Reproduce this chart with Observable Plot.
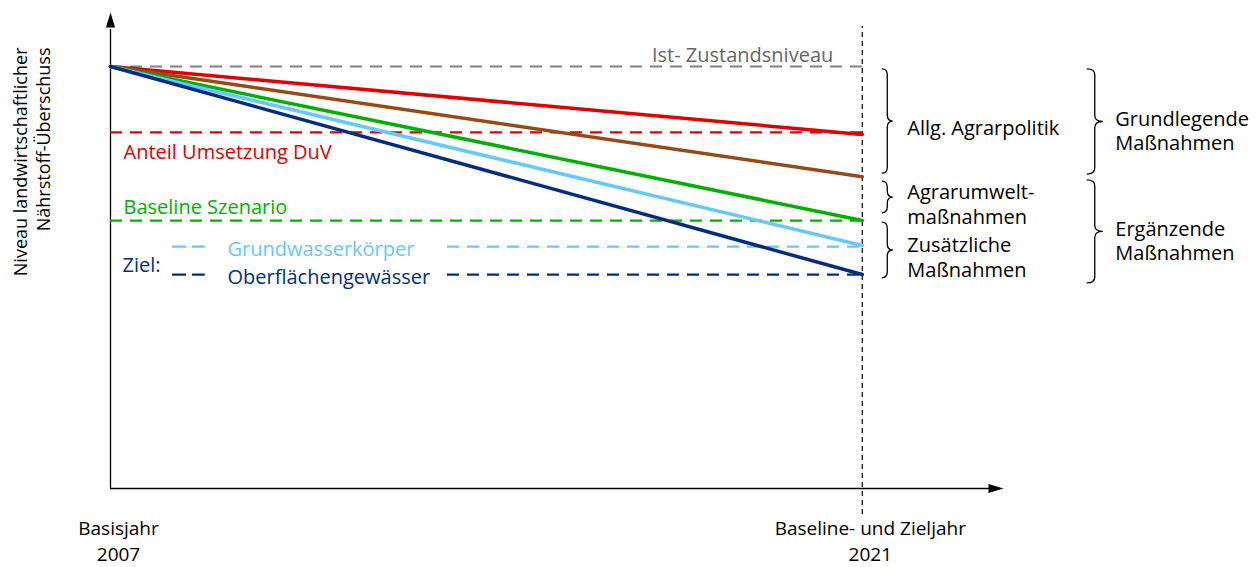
<!DOCTYPE html>
<html><head><meta charset="utf-8">
<script src="https://cdn.jsdelivr.net/npm/d3@7"></script>
<script src="https://cdn.jsdelivr.net/npm/@observablehq/plot@0.6"></script>
<style>body{margin:0;background:#fff} svg{display:block}</style>
</head><body><div id="chart"></div>
<script>
// ---- data ----
const baseYear = 2007;
const targetYear = 2021;
const axisEndYear = 2023.63;
const axisTop = 112.8;
const startLevel = 100;

const pathwayNames = ["Umsetzung DuV", "Allg. Agrarpolitik", "Agrarumweltmaßnahmen", "Grundwasserkörper", "Oberflächengewässer"];
const pathwayEnd = [83.9, 73.9, 63.5, 57.6, 50.7];
const pathwayColors = ["#e00000", "#974b14", "#00b000", "#66c8ff", "#002d84"];

const refNames = ["Ist- Zustandsniveau", "Anteil Umsetzung DuV", "Baseline Szenario", "Grundwasserkörper", "Oberflächengewässer"];
const refLevels = [100, 84.4, 63.5, 57.3, 50.7];
const refColors = ["#808080", "#e00000", "#00b000", "#66c8ff", "#002d84"];

const braceLabels = ["Allg. Agrarpolitik", "Agrarumwelt-\nmaßnahmen", "Zusätzliche\nMaßnahmen", "Grundlegende\nMaßnahmen", "Ergänzende\nMaßnahmen"];
const braceTop = [99.3, 72.7, 63.0, 99.3, 73.0];
const braceBottom = [74.6, 65.2, 49.8, 74.4, 48.6];
const braceColumn = [0, 0, 0, 1, 1];

const xTicks = [2007, 2021];
const xTickTitles = ["Basisjahr", "Baseline- und Zieljahr"];
const xTickYears = ["2007", "2021"];
const yLabel = "Niveau landwirtschaftlicher\nNährstoff-Überschuss";
const zielLabel = "Ziel:";

// ---- derived tables ----
const lineData = pathwayNames.flatMap((name, i) => [
  {name, year: baseYear, value: startLevel},
  {name, year: targetYear, value: pathwayEnd[i]}
]);
const refs = refNames.map((name, i) => ({name, level: refLevels[i], color: refColors[i]}));
const braces = braceLabels.map((label, i) => ({label, top: braceTop[i], bottom: braceBottom[i], col: braceColumn[i], mid: (braceTop[i] + braceBottom[i]) / 2}));
const ticks = xTicks.map((year, i) => ({year, title: xTickTitles[i], yearLabel: xTickYears[i]}));

// ---- style ----
const FONT = "'Open Sans', sans-serif";
const FS = 20;
const braceOffset = [20, 225];
const braceWidth = [11, 16];
const braceTextDx = [45, 253];
const dash = "12,8";

const arrowHead = {
  draw(ctx) { ctx.moveTo(0, 0); ctx.lineTo(4.6, 15); ctx.lineTo(-4.6, 15); ctx.closePath(); }
};

function braceMark(index, scales) {
  const g = d3.create("svg:g").attr("fill", "none").attr("stroke", "#000").attr("stroke-width", 1.3);
  for (const b of braces) {
    const x0 = scales.x(targetYear) + braceOffset[b.col];
    const w = braceWidth[b.col];
    const y0 = scales.y(b.top), y1 = scales.y(b.bottom), ym = (y0 + y1) / 2;
    const xm = x0 + w / 2, r = Math.min(6, (y1 - y0) / 4);
    g.append("path").attr("d",
      `M${x0},${y0} Q${xm},${y0} ${xm},${y0 + r} L${xm},${ym - r} Q${xm},${ym} ${x0 + w},${ym} ` +
      `Q${xm},${ym} ${xm},${ym + r} L${xm},${y1 - r} Q${xm},${y1} ${x0},${y1}`);
  }
  return g.node();
}

const marks = [];
// axes
marks.push(Plot.ruleX([baseYear], {y1: 0, y2: axisTop, insetBottom: -17, stroke: "#000", strokeWidth: 1.3}));
marks.push(Plot.ruleY([0], {x1: baseYear, x2: axisEndYear, insetRight: 6, stroke: "#000", strokeWidth: 1.3}));
marks.push(Plot.dot([{x: baseYear, y: axisTop}], {x: "x", y: "y", symbol: arrowHead, fill: "#000", stroke: null, r: 5}));
marks.push(Plot.dot([{x: axisEndYear, y: 0}], {x: "x", y: "y", symbol: arrowHead, rotate: 90, fill: "#000", stroke: null, r: 5}));
marks.push(Plot.ruleX([targetYear], {y1: 0, y2: axisTop, insetTop: 26, insetBottom: -14, stroke: "#000", strokeWidth: 1.2, strokeDasharray: "5,4"}));

// reference dashed lines
refs.slice(0, 3).forEach(r => marks.push(Plot.ruleY([r], {y: "level", x1: baseYear, x2: targetYear, stroke: r.color, strokeWidth: 2.2, strokeDasharray: dash})));
refs.slice(3).forEach(r => {
  marks.push(Plot.ruleY([r], {y: "level", x1: baseYear, x2: targetYear, insetLeft: 337, stroke: r.color, strokeWidth: 2.2, strokeDasharray: dash}));
  marks.push(Plot.ruleY([r], {y: "level", x1: baseYear, x2: targetYear, insetLeft: 62, insetRight: 657, stroke: r.color, strokeWidth: 2.2, strokeDasharray: "14,6"}));
});

// pathway lines
pathwayNames.forEach((name, i) => marks.push(Plot.line(lineData.filter(d => d.name === name), {x: "year", y: "value", stroke: pathwayColors[i], strokeWidth: 3.5})));

// labels
const t = (o) => Object.assign({fontSize: FS, fontFamily: FONT, lineAnchor: "middle"}, o);
marks.push(Plot.text([refs[0]], t({x: () => targetYear, y: "level", text: "name", textAnchor: "end", dx: -29, dy: -11, fill: "#666666"})));
marks.push(Plot.text([refs[1]], t({x: () => baseYear, y: "level", text: "name", textAnchor: "start", dx: 13, dy: 20, fill: refs[1].color})));
marks.push(Plot.text([refs[2]], t({x: () => baseYear, y: "level", text: "name", textAnchor: "start", dx: 13, dy: -13, fill: refs[2].color})));
marks.push(Plot.text([refs[3]], t({x: () => baseYear, y: "level", text: "name", textAnchor: "start", dx: 117, dy: 3, fill: refs[3].color})));
marks.push(Plot.text([refs[4]], t({x: () => baseYear, y: "level", text: "name", textAnchor: "start", dx: 117, dy: 3, fill: refs[4].color})));
marks.push(Plot.text([refs[4]], t({x: () => baseYear, y: "level", text: () => zielLabel, textAnchor: "start", dx: 12, dy: -9, fill: refs[4].color})));

// braces + labels
marks.push(braceMark);
marks.push(Plot.text(braces.filter(b => b.col === 0), t({x: () => targetYear, y: "mid", text: "label", textAnchor: "start", dx: braceTextDx[0], dy: 6, lineHeight: 1.22, fill: "#000"})));
marks.push(Plot.text(braces.filter(b => b.col === 1), t({x: () => targetYear, y: "mid", text: "label", textAnchor: "start", dx: braceTextDx[1], dy: 8, lineHeight: 1.22, fill: "#000"})));

// x tick labels
marks.push(Plot.text(ticks, t({x: "year", y: () => 0, text: "title", fontSize: 19, textAnchor: "middle", dx: 8, dy: 40, fill: "#000"})));
marks.push(Plot.text(ticks, t({x: "year", y: () => 0, text: "yearLabel", fontSize: 19, textAnchor: "middle", dx: 8, dy: 66, fill: "#000"})));

// y label
marks.push(Plot.text([yLabel], t({frameAnchor: "top-left", text: d => d, fontSize: 18, rotate: -90, textAnchor: "end", dx: -79, dy: 35, lineHeight: 1.28, fill: "#000"})));

const chart = Plot.plot({
  width: 1258, height: 567,
  marginLeft: 110, marginRight: 1258 - 1003, marginTop: 12, marginBottom: 79,
  x: {domain: [baseYear, axisEndYear], axis: null},
  y: {domain: [0, axisTop], axis: null},
  style: {fontFamily: FONT, background: "#fff", overflow: "visible"},
  marks
});
document.getElementById("chart").append(chart);
</script>
</body></html>
